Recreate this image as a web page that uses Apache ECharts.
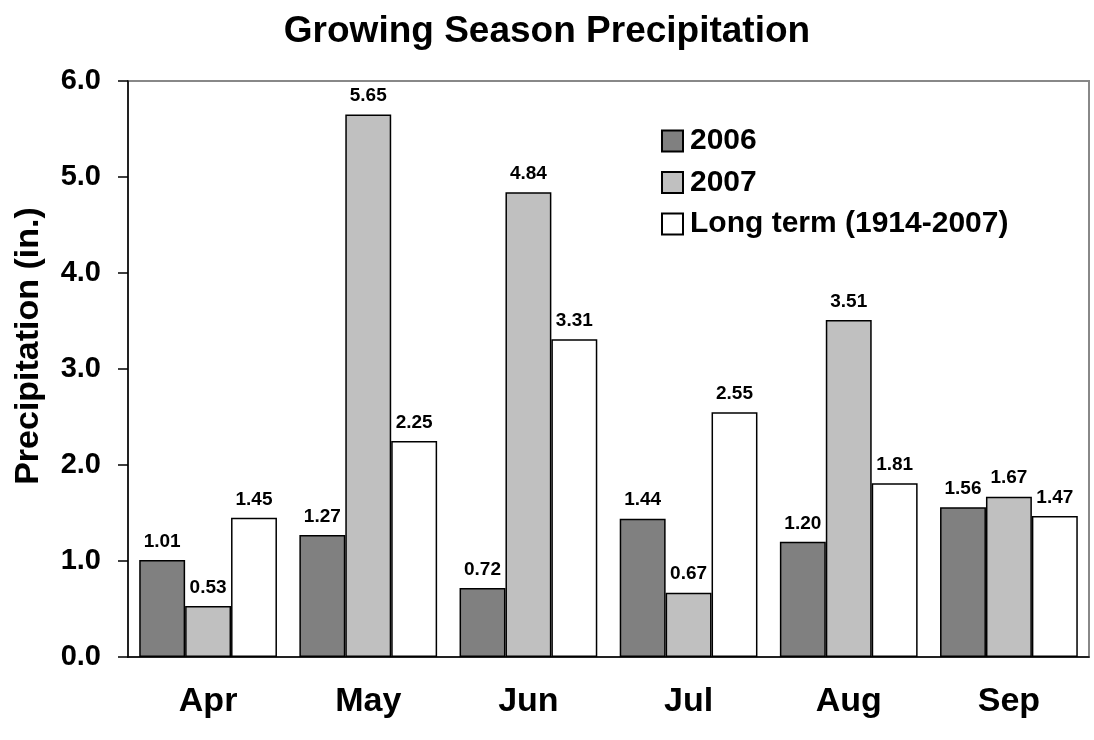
<!DOCTYPE html>
<html>
<head>
<meta charset="utf-8">
<script src="https://cdn.jsdelivr.net/npm/echarts@6/dist/echarts.min.js"></script>
<style>html,body{margin:0;padding:0;background:#fff}#c{width:1094px;height:740px}</style>
</head>
<body>
<div id="c"></div>
<script>
const categories = ['Apr', 'May', 'Jun', 'Jul', 'Aug', 'Sep'];
const seriesNames = ['2006', '2007', 'Long term (1914-2007)'];
const values2006 = [1.01, 1.27, 0.72, 1.44, 1.20, 1.56];
const values2007 = [0.53, 5.65, 4.84, 0.67, 3.51, 1.67];
const valuesLongTerm = [1.45, 2.25, 3.31, 2.55, 1.81, 1.47];
const colors = ['#808080', '#C0C0C0', '#FFFFFF'];

const font = 'Liberation Sans, Arial, sans-serif';
const chart = echarts.init(document.getElementById('c'));
const allValues = [values2006, values2007, valuesLongTerm];
chart.setOption({
  animation: false,
  backgroundColor: '#fff',
  title: {
    text: 'Growing Season Precipitation',
    left: 'center', top: 8,
    textStyle: { fontFamily: font, fontWeight: 'bold', fontSize: 37, color: '#000' }
  },
  legend: {
    orient: 'vertical', left: 656, top: 121,
    itemWidth: 21, itemHeight: 21, itemGap: 11.5,
    icon: 'rect',
    textStyle: { fontFamily: font, fontWeight: 'bold', fontSize: 30, color: '#000', padding: [0, 0, 0, 2] },
    data: seriesNames
  },
  grid: {
    left: 128, right: 5, top: 81, bottom: 83,
    show: true, borderColor: '#888', borderWidth: 2, backgroundColor: '#fff'
  },
  xAxis: {
    type: 'category', data: categories,
    axisLine: { lineStyle: { color: '#000', width: 1.5 } },
    axisTick: { length: 12, lineStyle: { color: '#000', width: 1.5 } },
    axisLabel: { margin: 28, fontFamily: font, fontWeight: 'bold', fontSize: 34, color: '#000' }
  },
  yAxis: {
    type: 'value', min: 0, max: 6, interval: 1,
    name: 'Precipitation (in.)', nameLocation: 'middle', nameGap: 82,
    nameTextStyle: { fontFamily: font, fontWeight: 'bold', fontSize: 34, color: '#000', padding: [0, 0, 0, 46] },
    axisLine: { show: true, lineStyle: { color: '#000', width: 1.5 } },
    axisTick: { show: true, length: 10, lineStyle: { color: '#000', width: 1.5 } },
    splitLine: { show: false },
    axisLabel: {
      margin: 27, fontFamily: font, fontWeight: 'bold', fontSize: 29, color: '#000',
      formatter: v => v.toFixed(1)
    }
  },
  series: seriesNames.map((name, i) => ({
    name, type: 'bar', data: allValues[i],
    barGap: '0%', barCategoryGap: '14%',
    itemStyle: { color: colors[i], borderColor: '#000', borderWidth: 1.5 },
    label: {
      show: true, position: 'top', distance: 9,
      fontFamily: font, fontWeight: 'bold', fontSize: 19, color: '#000',
      formatter: p => p.value.toFixed(2)
    }
  }))
});
</script>
</body>
</html>
